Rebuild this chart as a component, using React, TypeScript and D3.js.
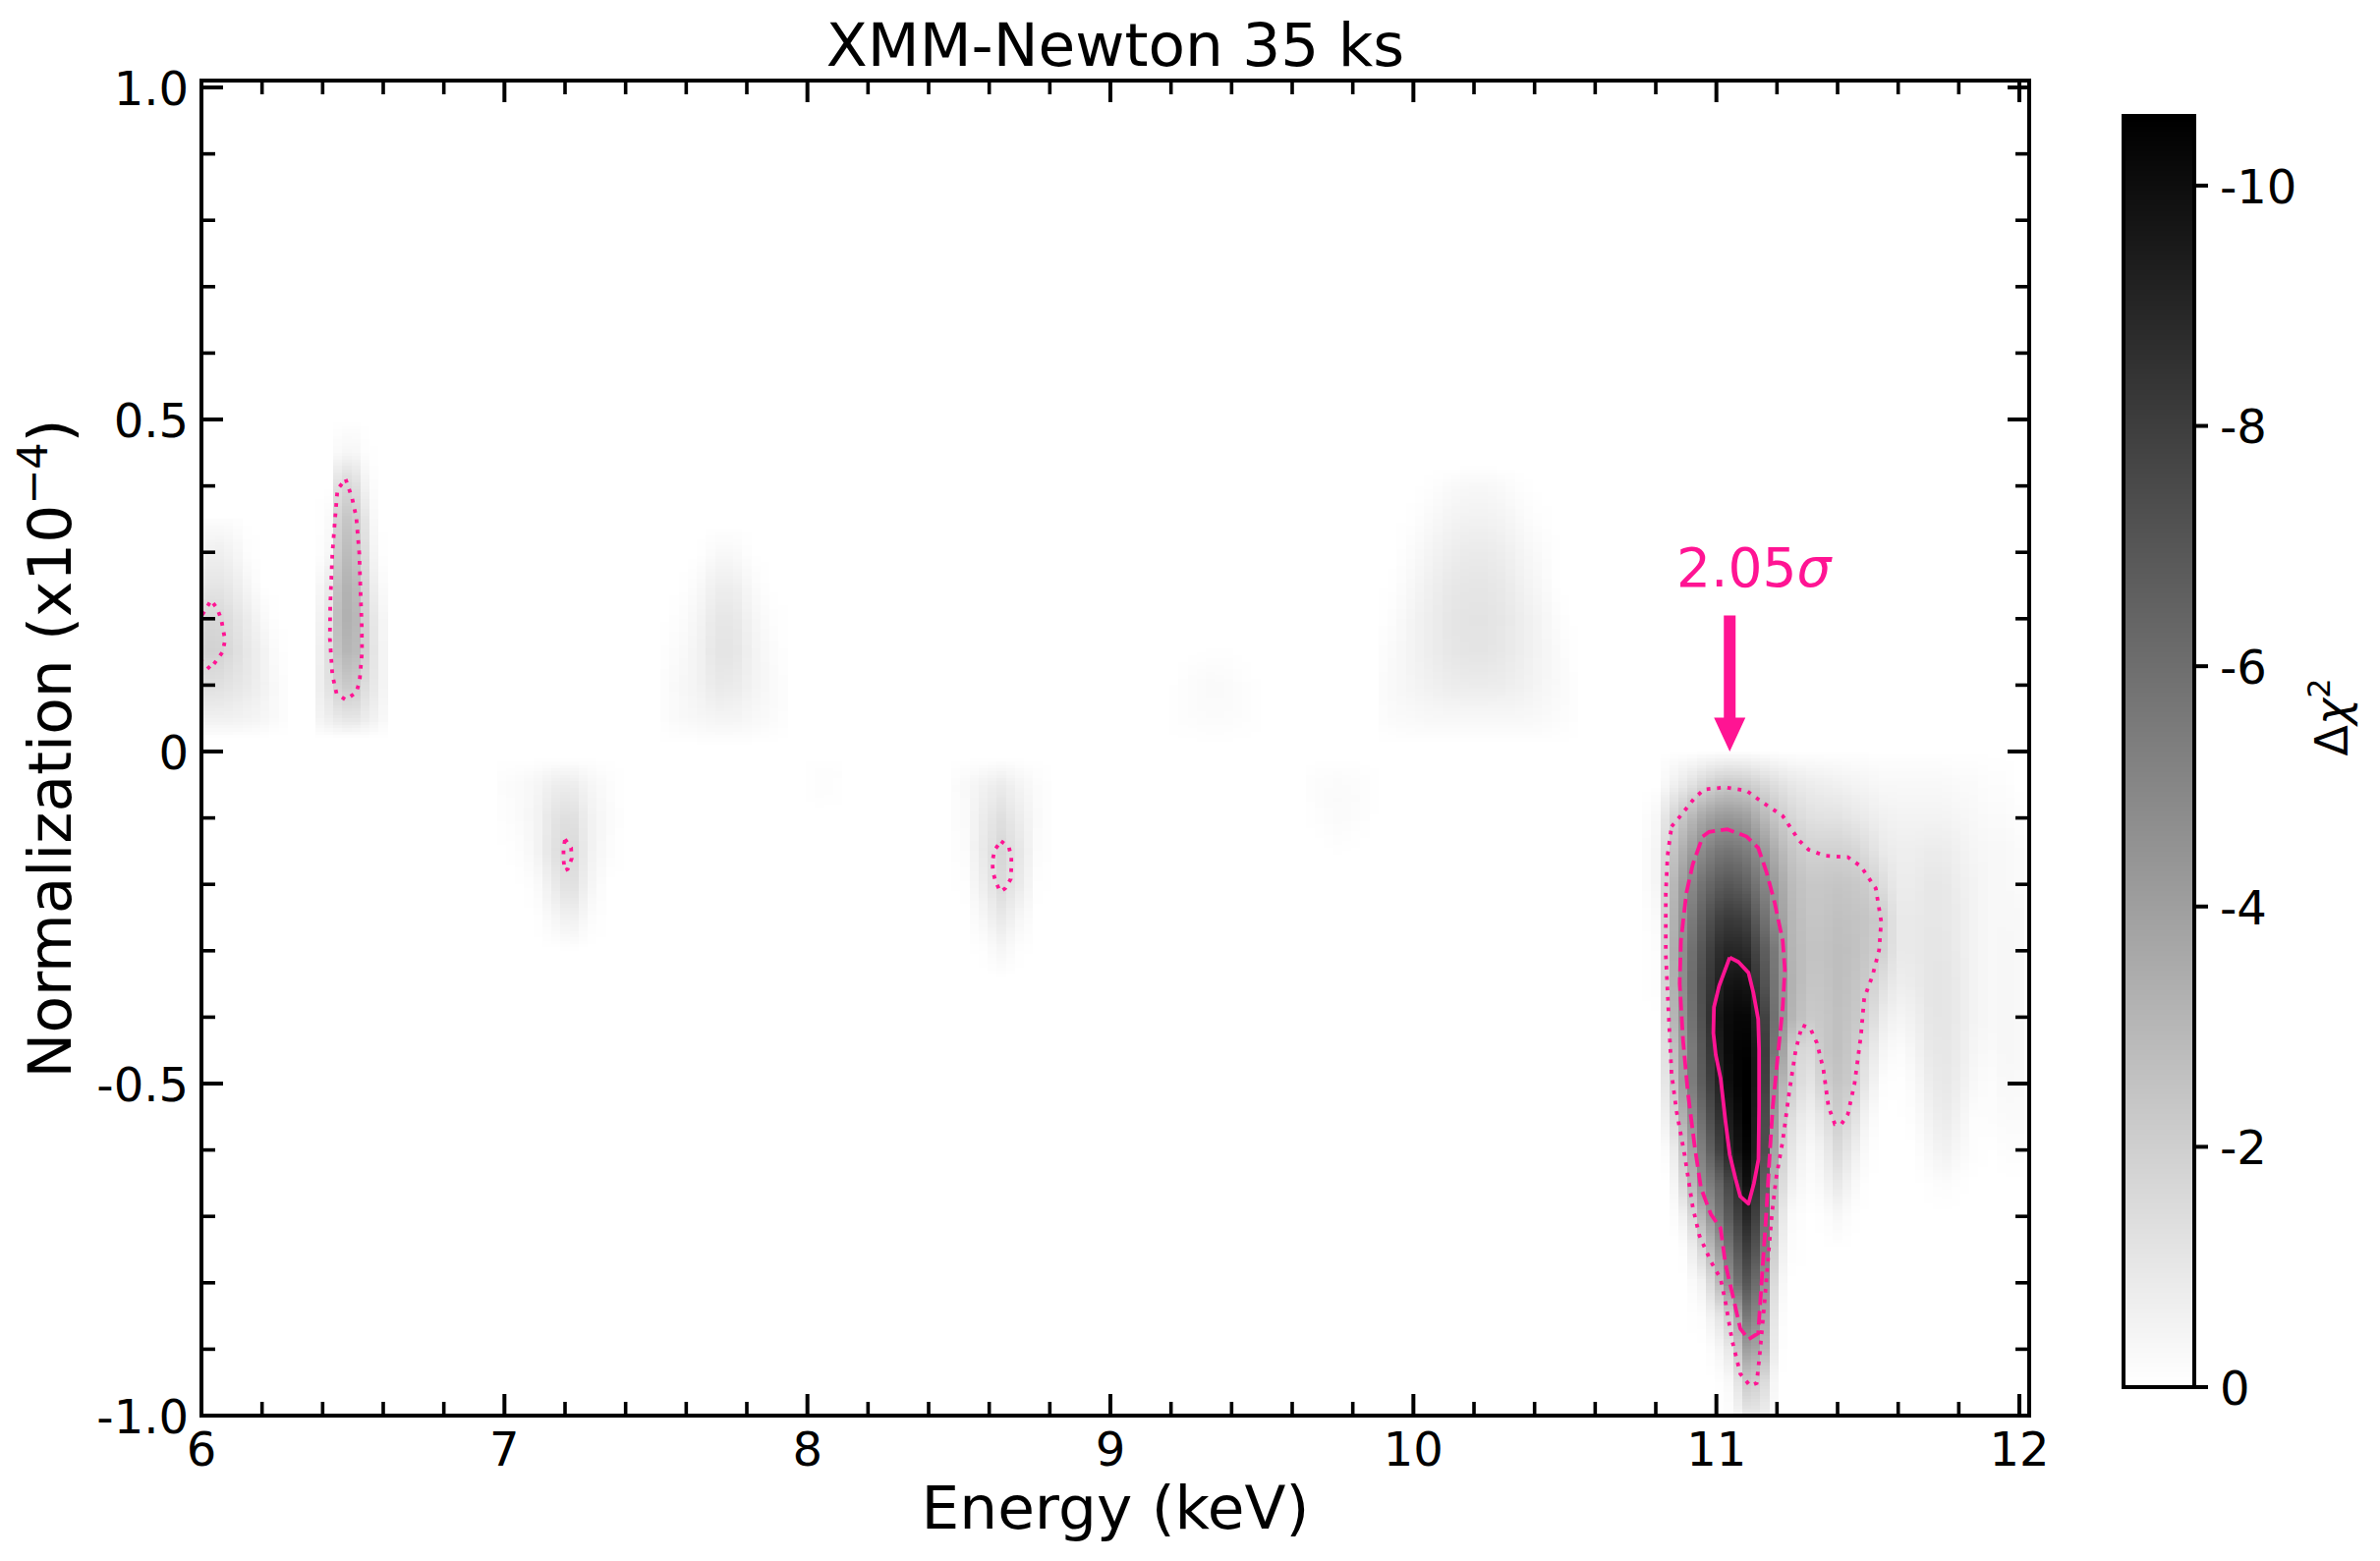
import { useEffect, useRef } from "react";
import * as d3 from "d3";

const X_MAJOR = [6, 7, 8, 9, 10, 11, 12];
const X_MINOR = d3.range(6, 12.01, 0.2).map((d) => +d.toFixed(1)).filter((d) => !X_MAJOR.includes(d));
const Y_MAJOR = [-1, -0.5, 0, 0.5, 1];
const Y_LABELS = ["-1.0", "-0.5", "0", "0.5", "1.0"];
const Y_MINOR = d3.range(-1, 1.01, 0.1).map((d) => +d.toFixed(1)).filter((d) => !Y_MAJOR.includes(d));
const CBAR_TICKS = [0, -2, -4, -6, -8, -10];
const CBAR_MIN = -10.58;

// Delta chi2, patch by patch (rows = normalization, columns = energy)
const LOW_E = [6.0, 6.05, 6.1, 6.15, 6.2, 6.25, 6.3];
const LOW_N = [0.35, 0.3, 0.25, 0.2, 0.15, 0.1, 0.05, 0.02];
const LOW_V = [
  [-0.1, -0.1, -0.1, 0, 0, 0, 0],
  [-0.5, -0.7, -0.5, -0.1, 0, 0, 0],
  [-1.0, -1.1, -0.9, -0.4, 0, 0, 0],
  [-1.6, -1.7, -1.3, -0.8, -0.3, 0, 0],
  [-1.8, -1.9, -1.5, -1.0, -0.6, -0.1, 0],
  [-1.3, -1.3, -1.1, -0.9, -0.6, -0.2, 0],
  [-0.6, -0.6, -0.6, -0.5, -0.4, -0.2, 0],
  [0, 0, 0, 0, 0, 0, 0],
];

const FE_E = [6.38, 6.42, 6.46, 6.5, 6.54, 6.58, 6.62];
const FE_N = [0.5, 0.45, 0.4, 0.35, 0.3, 0.25, 0.2, 0.15, 0.1, 0.05, 0.02];
const FE_V = [
  [0, 0, 0, 0, 0, 0, 0],
  [0, 0, -0.3, -0.4, -0.1, 0, 0],
  [0, 0, -1.7, -1.6, -0.5, 0, 0],
  [0, -0.2, -2.3, -2.4, -1.1, 0, 0],
  [0, -0.3, -2.7, -2.8, -1.4, -0.1, 0],
  [-0.2, -0.8, -3.1, -3.2, -1.7, -0.4, 0],
  [-0.3, -1.1, -3.2, -3.3, -1.9, -0.7, -0.1],
  [-0.4, -1.3, -2.9, -3.1, -1.9, -0.8, -0.1],
  [-0.5, -1.2, -2.1, -2.3, -1.4, -0.8, -0.1],
  [-0.4, -0.7, -1.0, -1.1, -0.8, -0.5, -0.1],
  [0, 0, 0, 0, 0, 0, 0],
];

const NI_E = [6.98, 7.04, 7.1, 7.16, 7.22, 7.28, 7.34, 7.4];
const NI_N = [-0.01, -0.05, -0.1, -0.15, -0.2, -0.25, -0.3];
const NI_V = [
  [0, 0, 0, 0, 0, 0, 0, 0],
  [-0.1, -0.2, -0.35, -0.7, -0.8, -0.4, -0.15, 0],
  [-0.05, -0.15, -0.4, -1.1, -1.4, -0.6, -0.2, 0],
  [0, -0.05, -0.35, -1.2, -1.7, -0.6, -0.15, 0],
  [0, 0, -0.1, -0.8, -1.4, -0.45, 0, 0],
  [0, 0, 0, -0.3, -0.7, -0.15, 0, 0],
  [0, 0, 0, 0, 0, 0, 0, 0],
];

const CU_E = [7.52, 7.58, 7.64, 7.7, 7.76, 7.82, 7.88, 7.94];
const CU_N = [0.34, 0.3, 0.25, 0.2, 0.15, 0.1, 0.05, 0.01];
const CU_V = [
  [0, 0, 0, 0, 0, 0, 0, 0],
  [0, 0, 0, -0.25, -0.25, 0, 0, 0],
  [0, 0, -0.2, -0.7, -0.7, -0.2, 0, 0],
  [0, -0.1, -0.4, -1.0, -1.0, -0.4, -0.1, 0],
  [-0.05, -0.2, -0.5, -1.1, -1.1, -0.5, -0.2, 0],
  [-0.1, -0.3, -0.5, -0.9, -0.85, -0.5, -0.25, -0.05],
  [-0.1, -0.25, -0.35, -0.45, -0.45, -0.3, -0.2, -0.05],
  [0, 0, 0, 0, 0, 0, 0, 0],
];

const FAINT_E = [8.0, 8.05, 8.1, 8.14];
const FAINT_N = [-0.01, -0.03, -0.06, -0.09];
const FAINT_V = [
  [0, 0, 0, 0],
  [-0.05, -0.1, -0.07, 0],
  [-0.03, -0.1, -0.05, 0],
  [0, 0, 0, 0],
];

const MID_E = [8.46, 8.52, 8.58, 8.64, 8.7, 8.76, 8.82];
const MID_N = [-0.01, -0.05, -0.1, -0.15, -0.2, -0.25, -0.3, -0.34];
const MID_V = [
  [0, 0, 0, 0, 0, 0, 0],
  [-0.05, -0.25, -0.55, -0.8, -0.45, -0.15, 0],
  [-0.05, -0.2, -0.8, -1.3, -0.75, -0.2, 0],
  [0, -0.15, -0.9, -1.65, -1.0, -0.15, 0],
  [0, -0.05, -0.7, -1.5, -0.85, -0.05, 0],
  [0, 0, -0.35, -0.9, -0.35, 0, 0],
  [0, 0, -0.05, -0.35, -0.05, 0, 0],
  [0, 0, 0, 0, 0, 0, 0],
];

const BUMP_E = [9.2, 9.26, 9.32, 9.38, 9.44, 9.5];
const BUMP_N = [0.17, 0.15, 0.1, 0.05, 0.01];
const BUMP_V = [
  [0, 0, 0, 0, 0, 0],
  [0, 0, -0.03, -0.03, 0, 0],
  [0, -0.12, -0.22, -0.2, -0.08, 0],
  [-0.04, -0.1, -0.15, -0.15, -0.08, -0.03],
  [0, 0, 0, 0, 0, 0],
];

const DIP_E = [9.64, 9.7, 9.76, 9.82, 9.88];
const DIP_N = [-0.01, -0.04, -0.07, -0.1, -0.13, -0.16];
const DIP_V = [
  [0, 0, 0, 0, 0],
  [-0.05, -0.12, -0.15, -0.1, -0.03],
  [-0.03, -0.14, -0.2, -0.14, -0.03],
  [0, -0.1, -0.18, -0.1, 0],
  [0, -0.02, -0.1, -0.03, 0],
  [0, 0, 0, 0, 0],
];

const BROAD_E = [9.88, 9.94, 10.0, 10.06, 10.12, 10.18, 10.24, 10.3, 10.36, 10.42, 10.48, 10.54];
const BROAD_N = [0.43, 0.4, 0.35, 0.3, 0.25, 0.2, 0.15, 0.1, 0.05, 0.01];
const BROAD_V = [
  [0, 0, 0, 0, 0, 0, 0, 0, 0, 0, 0, 0],
  [0, 0, 0, -0.05, -0.2, -0.3, -0.3, -0.2, -0.05, 0, 0, 0],
  [0, 0, -0.05, -0.25, -0.45, -0.55, -0.55, -0.45, -0.2, -0.05, 0, 0],
  [0, 0, -0.2, -0.45, -0.7, -0.85, -0.85, -0.7, -0.4, -0.2, 0, 0],
  [0, -0.05, -0.35, -0.65, -0.95, -1.05, -1.05, -0.9, -0.55, -0.3, 0, 0],
  [0, -0.15, -0.5, -0.75, -1.05, -1.15, -1.15, -1.0, -0.7, -0.45, -0.1, 0],
  [-0.05, -0.25, -0.5, -0.75, -1.0, -1.1, -1.1, -0.95, -0.7, -0.45, -0.2, 0],
  [-0.1, -0.3, -0.45, -0.6, -0.75, -0.8, -0.8, -0.75, -0.6, -0.4, -0.25, -0.05],
  [-0.1, -0.2, -0.25, -0.3, -0.3, -0.3, -0.3, -0.3, -0.3, -0.25, -0.15, -0.05],
  [0, 0, 0, 0, 0, 0, 0, 0, 0, 0, 0, 0],
];

const LINE_E = [10.75, 10.8, 10.85, 10.9, 10.95, 11.0, 11.05, 11.1, 11.15, 11.2, 11.25, 11.3, 11.35, 11.4, 11.45, 11.5, 11.55, 11.6, 11.65, 11.7, 11.75, 11.8, 11.85, 11.9, 11.95, 12.0, 12.03];
const LINE_N = [0, -0.05, -0.1, -0.15, -0.2, -0.25, -0.3, -0.35, -0.4, -0.45, -0.5, -0.55, -0.6, -0.65, -0.7, -0.75, -0.8, -0.85, -0.9, -0.95, -1];
const LINE_V = [
  [0, 0, 0, 0, 0, 0, 0, 0, 0, 0, 0, 0, 0, 0, 0, 0, 0, 0, 0, 0, 0, 0, 0, 0, 0, 0, 0],
  [0, 0, -0.5, -1.0, -1.6, -2.1, -2.3, -2.1, -1.7, -1.3, -1.0, -0.8, -0.7, -0.6, -0.5, -0.4, -0.3, -0.3, -0.3, -0.3, -0.3, -0.2, -0.2, -0.1, -0.1, 0, 0],
  [0, -0.3, -1.6, -2.6, -3.6, -4.2, -4.3, -4.0, -3.1, -2.3, -1.7, -1.3, -1.2, -1.2, -1.0, -0.8, -0.6, -0.5, -0.5, -0.5, -0.5, -0.4, -0.3, -0.2, -0.2, -0.1, 0],
  [0, -0.4, -2.2, -3.6, -4.8, -5.6, -5.8, -5.4, -4.4, -3.2, -2.4, -1.9, -1.9, -1.9, -1.8, -1.4, -0.9, -0.7, -0.7, -0.8, -0.8, -0.6, -0.4, -0.3, -0.3, -0.2, -0.1],
  [0, -0.4, -2.6, -4.4, -5.8, -6.7, -7.0, -6.5, -5.3, -3.9, -2.8, -2.3, -2.3, -2.4, -2.3, -2.1, -1.4, -0.8, -0.8, -1.0, -1.0, -0.7, -0.5, -0.3, -0.3, -0.2, -0.1],
  [0, -0.2, -2.8, -4.8, -6.5, -7.8, -8.2, -7.8, -6.2, -4.4, -3.0, -2.4, -2.4, -2.6, -2.5, -2.4, -2.0, -0.9, -0.9, -1.0, -1.0, -0.8, -0.5, -0.3, -0.3, -0.3, -0.1],
  [0, -0.1, -2.9, -5.2, -7.0, -8.6, -9.1, -8.8, -7.1, -5.2, -3.1, -2.5, -2.5, -2.7, -2.6, -2.3, -1.9, -0.9, -0.9, -1.05, -1.05, -0.8, -0.5, -0.3, -0.35, -0.3, -0.1],
  [0, -0.1, -2.8, -5.2, -7.3, -9.0, -9.9, -9.7, -7.6, -5.3, -3.2, -2.4, -2.4, -2.7, -2.5, -2.1, -1.3, -0.7, -0.8, -1.05, -1.1, -0.85, -0.5, -0.3, -0.35, -0.3, -0.1],
  [0, 0, -2.6, -5.0, -7.2, -9.5, -10.3, -10.3, -8.5, -5.3, -3.1, -2.2, -2.3, -2.6, -2.4, -1.8, -0.8, -0.4, -0.6, -1.0, -1.1, -0.85, -0.5, -0.3, -0.35, -0.3, -0.1],
  [0, 0, -2.1, -4.6, -6.9, -9.2, -10.4, -10.5, -8.9, -4.9, -2.1, -1.3, -2.3, -2.6, -2.2, -1.2, -0.4, -0.1, -0.4, -0.9, -1.05, -0.8, -0.4, -0.2, -0.35, -0.3, -0.1],
  [0, 0, -1.7, -4.6, -6.7, -8.8, -10.3, -10.6, -9.0, -3.7, -2.1, -0.9, -1.9, -2.4, -2.1, -0.8, -0.1, 0, -0.2, -0.7, -1.0, -0.7, -0.3, -0.1, -0.3, -0.25, -0.1],
  [0, 0, -1.0, -3.8, -6.0, -8.2, -9.8, -10.6, -8.6, -3.0, -1.4, -0.5, -1.1, -2.0, -1.4, -0.3, 0, 0, -0.1, -0.5, -0.85, -0.5, -0.1, -0.1, -0.2, -0.2, -0.1],
  [0, 0, -0.3, -2.8, -5.3, -7.5, -9.4, -10.4, -8.6, -2.5, -1.0, -0.2, -0.6, -1.5, -0.8, -0.1, 0, 0, 0, -0.3, -0.6, -0.3, -0.1, 0, -0.1, -0.1, 0],
  [0, 0, 0, -1.9, -4.6, -6.0, -8.0, -9.9, -7.8, -2.0, -0.6, -0.1, -0.3, -0.9, -0.3, 0, 0, 0, 0, -0.05, -0.15, -0.05, 0, 0, 0, 0, 0],
  [0, 0, 0, -0.7, -3.0, -5.2, -7.2, -9.0, -7.2, -1.4, -0.2, 0, -0.05, -0.3, -0.05, 0, 0, 0, 0, 0, 0, 0, 0, 0, 0, 0, 0],
  [0, 0, 0, -0.1, -1.6, -3.6, -6.2, -8.0, -6.5, -0.9, -0.1, 0, 0, 0, 0, 0, 0, 0, 0, 0, 0, 0, 0, 0, 0, 0, 0],
  [0, 0, 0, 0, -0.5, -2.2, -5.2, -7.0, -5.5, -0.5, 0, 0, 0, 0, 0, 0, 0, 0, 0, 0, 0, 0, 0, 0, 0, 0, 0],
  [0, 0, 0, 0, -0.1, -0.8, -2.2, -5.6, -4.4, -0.2, 0, 0, 0, 0, 0, 0, 0, 0, 0, 0, 0, 0, 0, 0, 0, 0, 0],
  [0, 0, 0, 0, 0, -0.2, -1.1, -4.0, -3.6, -0.1, 0, 0, 0, 0, 0, 0, 0, 0, 0, 0, 0, 0, 0, 0, 0, 0, 0],
  [0, 0, 0, 0, 0, 0, -0.3, -2.2, -1.8, 0, 0, 0, 0, 0, 0, 0, 0, 0, 0, 0, 0, 0, 0, 0, 0, 0, 0],
  [0, 0, 0, 0, 0, 0, -0.1, -0.9, -0.9, 0, 0, 0, 0, 0, 0, 0, 0, 0, 0, 0, 0, 0, 0, 0, 0, 0, 0],
];

// Contours, [energy, normalization]
const SOLID_LINE: [number, number][] = [
  [11.044, -0.31], [11.073, -0.317], [11.106, -0.333], [11.122, -0.363], [11.138, -0.403], [11.141, -0.449], [11.141, -0.535],
  [11.139, -0.614], [11.124, -0.65], [11.106, -0.681], [11.079, -0.67], [11.063, -0.643], [11.044, -0.607], [11.03, -0.557],
  [11.014, -0.492], [10.998, -0.457], [10.99, -0.424], [10.992, -0.385], [11.009, -0.353], [11.044, -0.31],
];
const DASHED_LINE: [number, number][] = [
  [10.955, -0.128], [10.976, -0.121], [11.036, -0.117], [11.1, -0.128], [11.138, -0.145], [11.165, -0.181], [11.192, -0.227],
  [11.219, -0.285], [11.226, -0.328], [11.219, -0.385], [11.203, -0.457], [11.186, -0.535], [11.176, -0.607], [11.165, -0.693],
  [11.149, -0.801], [11.138, -0.876], [11.106, -0.885], [11.079, -0.869], [11.052, -0.815], [11.03, -0.772], [11.014, -0.718],
  [10.982, -0.697], [10.949, -0.657], [10.928, -0.593], [10.906, -0.514], [10.89, -0.435], [10.879, -0.349], [10.883, -0.285],
  [10.901, -0.213], [10.922, -0.17], [10.955, -0.128],
];
const DOTTED_LINE: [number, number][] = [
  [10.852, -0.113], [10.885, -0.095], [10.928, -0.07], [10.96, -0.057], [11.03, -0.054], [11.1, -0.059], [11.154, -0.077],
  [11.219, -0.097], [11.273, -0.134], [11.305, -0.148], [11.359, -0.157], [11.434, -0.159], [11.477, -0.173], [11.526, -0.206],
  [11.544, -0.256], [11.537, -0.299], [11.515, -0.338], [11.488, -0.371], [11.477, -0.428], [11.456, -0.5], [11.434, -0.546],
  [11.413, -0.561], [11.391, -0.561], [11.37, -0.535], [11.353, -0.478], [11.332, -0.439], [11.31, -0.417], [11.283, -0.412],
  [11.262, -0.449], [11.24, -0.514], [11.219, -0.586], [11.197, -0.643], [11.184, -0.693], [11.173, -0.751], [11.159, -0.829],
  [11.143, -0.908], [11.133, -0.951], [11.111, -0.955], [11.079, -0.937], [11.052, -0.887], [11.03, -0.829], [11.014, -0.794],
  [10.982, -0.768], [10.944, -0.729], [10.922, -0.686], [10.895, -0.607], [10.869, -0.543], [10.852, -0.485], [10.842, -0.392],
  [10.833, -0.306], [10.833, -0.213], [10.839, -0.156], [10.852, -0.113],
];
const FE_DOTTED: [number, number][] = [
  [6.476, 0.41], [6.497, 0.382], [6.511, 0.353], [6.521, 0.298], [6.524, 0.254], [6.529, 0.19], [6.53, 0.15], [6.522, 0.106],
  [6.511, 0.089], [6.476, 0.078], [6.446, 0.087], [6.432, 0.116], [6.424, 0.17], [6.425, 0.219], [6.432, 0.298], [6.443, 0.362],
  [6.449, 0.395], [6.476, 0.41],
];
const LOW_DOTTED: [number, number][] = [
  [6.003, 0.206], [6.032, 0.228], [6.052, 0.215], [6.065, 0.2], [6.078, 0.168], [6.07, 0.15], [6.029, 0.124], [6.003, 0.136],
];
const NI_DOTTED: [number, number][] = [
  [7.2, -0.132], [7.22, -0.145], [7.222, -0.161], [7.209, -0.177], [7.199, -0.179], [7.195, -0.163], [7.195, -0.146], [7.2, -0.132],
];
const MID_DOTTED: [number, number][] = [
  [8.639, -0.135], [8.665, -0.144], [8.673, -0.159], [8.673, -0.175], [8.671, -0.192], [8.653, -0.206], [8.637, -0.211],
  [8.621, -0.196], [8.612, -0.18], [8.611, -0.164], [8.618, -0.148], [8.639, -0.135],
];

const ARROW_E = 11.044;
const ARROW_N = [0.205, 0.051, 0];
const PINK = "#ff1493";
const FONT = "'DejaVu Sans'";

export default function App() {
  const svgRef = useRef<SVGSVGElement>(null);

  useEffect(() => {
    if (!svgRef.current) return;
    const svg = d3.select(svgRef.current);
    svg.selectAll("*").remove();

    const x = d3.scaleLinear().domain([6, 12.0324]).range([205, 2065]);
    const y = d3.scaleLinear().domain([-1, 1.0104]).range([1441, 82]);
    const color = d3.scaleLinear<string>().domain([0, CBAR_MIN]).range(["#ffffff", "#000000"]).clamp(true);

    svg.append("clipPath").attr("id", "plot").append("rect")
      .attr("x", 205).attr("y", 82).attr("width", 1860).attr("height", 1359);

    // Heat map: columns are 0.03 keV wide, smooth along normalization
    const heat = svg.append("g").attr("clip-path", "url(#plot)").attr("shape-rendering", "crispEdges");
    const patches: [number[], number[], number[][]][] = [
      [LOW_E, LOW_N, LOW_V],
      [FE_E, FE_N, FE_V],
      [NI_E, NI_N, NI_V],
      [CU_E, CU_N, CU_V],
      [FAINT_E, FAINT_N, FAINT_V],
      [MID_E, MID_N, MID_V],
      [BUMP_E, BUMP_N, BUMP_V],
      [DIP_E, DIP_N, DIP_V],
      [BROAD_E, BROAD_N, BROAD_V],
      [LINE_E, LINE_N, LINE_V],
    ];
    const cells: { e: number; n: number; v: number }[] = [];
    patches.forEach(([es, ns, vs]) => {
      const rows = vs.map((row) => d3.scaleLinear().domain(es).range(row));
      const eLo = Math.ceil((es[0] - 6) / 0.03);
      const eHi = Math.floor((es[es.length - 1] - 6) / 0.03);
      const nHi = Math.max(ns[0], ns[ns.length - 1]);
      const nLo = Math.min(ns[0], ns[ns.length - 1]);
      for (let i = eLo; i <= eHi; i++) {
        const e = 6 + i * 0.03;
        const col = d3.scaleLinear().domain(ns).range(rows.map((r) => r(e)));
        for (let n = nLo; n < nHi; n += 0.005) {
          const v = col(n + 0.0025);
          if (v < -0.015) cells.push({ e, n, v });
        }
      }
    });
    heat.selectAll("rect").data(cells).join("rect")
      .attr("x", (d) => Math.round(x(d.e - 0.015)))
      .attr("width", (d) => Math.round(x(d.e + 0.015)) - Math.round(x(d.e - 0.015)))
      .attr("y", (d) => Math.round(y(d.n + 0.005)))
      .attr("height", (d) => Math.round(y(d.n)) - Math.round(y(d.n + 0.005)))
      .attr("fill", (d) => color(d.v));

    // Contours
    const line = d3.line<[number, number]>().x((d) => x(d[0])).y((d) => y(d[1]));
    const contours = svg.append("g").attr("clip-path", "url(#plot)").attr("fill", "none").attr("stroke", PINK).attr("stroke-width", 3.8);
    contours.append("path").attr("d", line(SOLID_LINE)).attr("stroke-linejoin", "round");
    contours.append("path").attr("d", line(DASHED_LINE)).attr("stroke-dasharray", "14 6");
    [DOTTED_LINE, FE_DOTTED, LOW_DOTTED, NI_DOTTED, MID_DOTTED].forEach((c) => {
      contours.append("path").attr("d", line(c)).attr("stroke-dasharray", "3.8 6.8");
    });

    // Frame and ticks
    const addAxis = (axis: d3.Axis<d3.NumberValue>, tx: number, ty: number, w: number) => {
      const g = svg.append("g").attr("transform", `translate(${tx},${ty})`).call(axis as any);
      g.select(".domain").remove();
      g.selectAll(".tick line").attr("stroke", "#000").attr("stroke-width", w);
      g.selectAll("text").attr("font-family", FONT).attr("font-size", 48).attr("fill", "#000");
      return g;
    };
    const none = () => "";
    addAxis(d3.axisBottom(x).tickValues(X_MAJOR).tickSize(-22).tickPadding(17).tickFormat((d) => String(d)).offset(0), 0, 1441, 4);
    addAxis(d3.axisBottom(x).tickValues(X_MINOR).tickSize(-14).tickFormat(none).offset(0), 0, 1441, 3.6);
    addAxis(d3.axisTop(x).tickValues(X_MAJOR).tickSize(-22).tickFormat(none).offset(0), 0, 82, 4);
    addAxis(d3.axisTop(x).tickValues(X_MINOR).tickSize(-14).tickFormat(none).offset(0), 0, 82, 3.6);
    addAxis(d3.axisLeft(y).tickValues(Y_MAJOR).tickSize(-22).tickPadding(13).tickFormat((_, i) => Y_LABELS[i]).offset(0), 205, 0, 4)
      .selectAll("text").attr("dy", "0.37em");
    addAxis(d3.axisLeft(y).tickValues(Y_MINOR).tickSize(-14).tickFormat(none).offset(0), 205, 0, 3.6);
    addAxis(d3.axisRight(y).tickValues(Y_MAJOR).tickSize(-22).tickFormat(none).offset(0), 2065, 0, 4);
    addAxis(d3.axisRight(y).tickValues(Y_MINOR).tickSize(-14).tickFormat(none).offset(0), 2065, 0, 3.6);
    svg.append("rect").attr("x", 205).attr("y", 82).attr("width", 1860).attr("height", 1359)
      .attr("fill", "none").attr("stroke", "#000").attr("stroke-width", 4);

    // Arrow and significance
    const arrow = d3.path();
    arrow.moveTo(x(ARROW_E) - 6, y(ARROW_N[0]));
    arrow.lineTo(x(ARROW_E) + 6, y(ARROW_N[0]));
    arrow.lineTo(x(ARROW_E) + 6, y(ARROW_N[1]));
    arrow.lineTo(x(ARROW_E) + 16, y(ARROW_N[1]));
    arrow.lineTo(x(ARROW_E), y(ARROW_N[2]));
    arrow.lineTo(x(ARROW_E) - 16, y(ARROW_N[1]));
    arrow.lineTo(x(ARROW_E) - 6, y(ARROW_N[1]));
    arrow.closePath();
    svg.append("path").attr("d", arrow.toString()).attr("fill", PINK);

    const sig = svg.append("text").attr("x", 1706).attr("y", 597)
      .attr("font-family", FONT).attr("font-size", 55).attr("fill", PINK);
    sig.append("tspan").text("2.05");
    sig.append("tspan").attr("font-style", "italic").text("σ");

    // Titles
    const label = (tx: number, ty: number, size: number, text: string, rotate = false) =>
      svg.append("text")
        .attr("transform", `translate(${tx},${ty})${rotate ? " rotate(-90)" : ""}`)
        .attr("text-anchor", "middle").attr("font-family", FONT).attr("font-size", size).attr("fill", "#000").text(text);
    label(1135, 67, 61.3, "XMM-Newton 35 ks");
    label(1135, 1556, 61.3, "Energy (keV)");

    const yLabel = label(72, 762, 61.3, "", true);
    yLabel.append("tspan").text("Normalization (x10");
    yLabel.append("tspan").attr("font-size", 43).attr("dy", -24).text("−4");
    yLabel.append("tspan").attr("dy", 24).text(")");

    // Colour bar
    const cbar = d3.scaleLinear().domain([0, CBAR_MIN]).range([1412, 118]);
    const steps = d3.range(0, 256);
    svg.append("g").attr("shape-rendering", "crispEdges").selectAll("rect").data(steps).join("rect")
      .attr("x", 2161).attr("width", 72)
      .attr("y", (i) => Math.floor(cbar((CBAR_MIN * (i + 1)) / 256)))
      .attr("height", (i) => Math.ceil(cbar((CBAR_MIN * i) / 256)) - Math.floor(cbar((CBAR_MIN * (i + 1)) / 256)))
      .attr("fill", (i) => color((CBAR_MIN * (i + 0.5)) / 256));
    svg.append("rect").attr("x", 2161).attr("y", 118).attr("width", 72).attr("height", 1294)
      .attr("fill", "none").attr("stroke", "#000").attr("stroke-width", 4);
    addAxis(d3.axisRight(cbar).tickValues(CBAR_TICKS).tickSize(14).tickPadding(12).tickFormat((d) => String(d)).offset(0), 2233, 0, 4)
      .selectAll("text").attr("dy", "0.37em");

    const cbarLabel = label(2389, 730, 46, "", true);
    cbarLabel.append("tspan").text("Δ");
    cbarLabel.append("tspan").attr("font-style", "italic").text("χ");
    cbarLabel.append("tspan").attr("font-size", 32).attr("dy", -18).text("2");
  }, []);

  return <svg ref={svgRef} width={2422} height={1589} style={{ position: "absolute", left: 0, top: 0, background: "#fff" }} />;
}
